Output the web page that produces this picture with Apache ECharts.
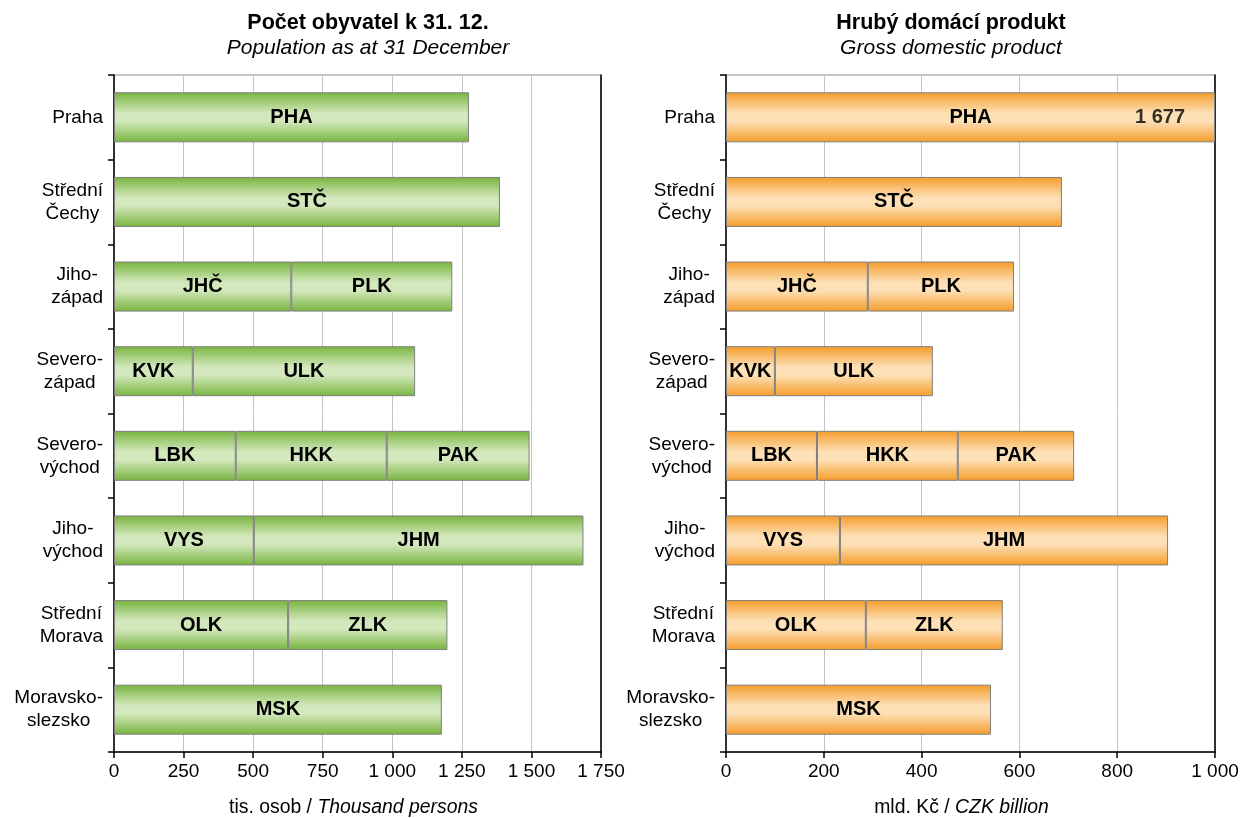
<!DOCTYPE html>
<html>
<head>
<meta charset="utf-8">
<script src="https://cdn.jsdelivr.net/npm/echarts@6/dist/echarts.min.js"></script>
<style>html,body{margin:0;padding:0;background:#fff}#c{width:1242px;height:818px}</style>
</head>
<body>
<div id="c"></div>
<script>
const categories = ['Praha','Střední\nČechy','Jiho-\nzápad','Severo-\nzápad','Severo-\nvýchod','Jiho-\nvýchod','Střední\nMorava','Moravsko-\nslezsko'];
const codes1 = ['PHA','STČ','JHČ','KVK','LBK','VYS','OLK','MSK'];
const codes2 = ['','','PLK','ULK','HKK','JHM','ZLK',''];
const codes3 = ['','','','','PAK','','',''];
const pop1 = [1275.4,1386.8,637.0,283.2,437.6,502.4,625.7,1178.0];
const pop2 = [null,null,578.7,798.9,542.6,1184.6,572.4,null];
const pop3 = [null,null,null,null,513.2,null,null,null];
const gdp1 = [1677,687,290,100,186,233,286,542];
const gdp2 = [null,null,299,323,288,671,280,null];
const gdp3 = [null,null,null,null,238,null,null,null];
const popAxis = {max:1750, step:250};
const gdpAxis = {max:1000, step:200};
const titles = [
  {text:'Počet obyvatel k 31. 12.', sub:'Population as at 31 December', unitCz:'tis. osob', unitEn:'Thousand persons'},
  {text:'Hrubý domácí produkt', sub:'Gross domestic product', unitCz:'mld. Kč', unitEn:'CZK billion'}
];

const FONT = "'Liberation Sans', Arial, sans-serif";
const fmt = v => String(v).replace(/\B(?=(\d{3})+(?!\d))/g, ' ');
const chart = echarts.init(document.getElementById('c'));

const green = new echarts.graphic.LinearGradient(0,0,0,1,[
  {offset:0,color:'#78b43e'},{offset:0.42,color:'#d3e8bd'},{offset:0.58,color:'#d3e8bd'},{offset:1,color:'#78b43e'}]);
const orange = new echarts.graphic.LinearGradient(0,0,0,1,[
  {offset:0,color:'#f59c2a'},{offset:0.42,color:'#fde0b6'},{offset:0.58,color:'#fde0b6'},{offset:1,color:'#f59c2a'}]);

const grids = [
  {left:114, width:487, top:75, height:677},
  {left:726, width:489, top:75, height:677}
];
const titleCenters = [363, 946];
const namePad = [8, 18];

function xAxisFor(i, ax){
  return {
    gridIndex:i, type:'value', min:0, max:ax.max, interval:ax.step,
    axisLine:{show:true, lineStyle:{color:'#000', width:1.5}},
    axisTick:{show:true, length:6, lineStyle:{color:'#000', width:1.5}},
    axisLabel:{color:'#000', fontSize:19, fontFamily:FONT, margin:10, formatter:v=>fmt(v)},
    splitLine:{show:true, lineStyle:{color:'#c4c4c4', width:1}},
    name:'{n|'+titles[i].unitCz+' / }{it|'+titles[i].unitEn+'}',
    nameLocation:'middle', nameGap:46,
    nameTextStyle:{padding:[0, namePad[i], 0, 0], rich:{
      n:{fontSize:19.4, fontFamily:FONT, color:'#000'},
      it:{fontSize:19.4, fontFamily:FONT, color:'#000', fontStyle:'italic'}}}
  };
}
function yAxisFor(i){
  return {
    gridIndex:i, type:'category', data:categories, inverse:true,
    axisLine:{show:true, lineStyle:{color:'#000', width:1.5}},
    axisTick:{show:true, length:6, lineStyle:{color:'#000', width:1.5}},
    axisLabel:{interval:0, margin:11, align:'right',
      formatter:v=>v.split('\n').map(l=>'{c|'+l+'}').join('\n'),
      rich:{c:{align:'center', fontSize:19, fontFamily:FONT, color:'#000', lineHeight:23}}},
    splitLine:{show:false}
  };
}
function frameAxis(i){
  return {gridIndex:i, type:'category', data:categories, inverse:true, position:'right',
    axisLine:{show:true, lineStyle:{color:'#000', width:1.5}},
    axisTick:{show:false}, axisLabel:{show:false}, splitLine:{show:false}};
}

function segSeries(i, vals, codes, color, stack, clampMax){
  return {
    type:'bar', xAxisIndex:i, yAxisIndex:i*2, stack:stack, barWidth:50,
    data: vals.map(v => v==null ? null : Math.min(v, clampMax)),
    itemStyle:{color:color, borderColor:'#7f7f7f', borderWidth:1},
    label:{show:true, position:'inside', color:'#000', fontWeight:'bold', fontSize:20, fontFamily:FONT,
      formatter:p => codes[p.dataIndex] || ''},
    emphasis:{disabled:true}, animation:false
  };
}

const gdpTotals = gdp1.map((v,k)=>(v||0)+(gdp2[k]||0)+(gdp3[k]||0));
const overflow = [];
gdpTotals.forEach((t,k)=>{ if(t>gdpAxis.max) overflow.push({value:[gdpAxis.max,k], lab:fmt(t)}); });

chart.setOption({
  animation:false,
  textStyle:{fontFamily:FONT},
  title: titles.map((t,i)=>({
    text:t.text, subtext:t.sub, left:titleCenters[i], top:7, textAlign:'center', itemGap:4,
    textStyle:{fontSize:21.5, fontWeight:'bold', color:'#000', fontFamily:FONT},
    subtextStyle:{fontSize:21, fontStyle:'italic', color:'#000', fontFamily:FONT}
  })),
  grid: grids.map(g=>Object.assign({show:true, borderColor:'#8a8a8a', borderWidth:1, backgroundColor:'transparent',
    containLabel:false, outerBoundsMode:'none'}, g)),
  xAxis:[xAxisFor(0,popAxis), xAxisFor(1,gdpAxis)],
  yAxis:[yAxisFor(0), frameAxis(0), yAxisFor(1), frameAxis(1)],
  series:[
    segSeries(0,pop1,codes1,green,'pop',popAxis.max),
    segSeries(0,pop2,codes2,green,'pop',popAxis.max),
    segSeries(0,pop3,codes3,green,'pop',popAxis.max),
    segSeries(1,gdp1,codes1,orange,'gdp',gdpAxis.max),
    segSeries(1,gdp2,codes2,orange,'gdp',gdpAxis.max),
    segSeries(1,gdp3,codes3,orange,'gdp',gdpAxis.max),
    {type:'scatter', xAxisIndex:1, yAxisIndex:2, symbolSize:0, silent:true, z:10,
      data: overflow.map(o=>({value:o.value, lab:o.lab})),
      label:{show:true, position:'left', distance:30, color:'#000', fontWeight:'bold', fontSize:20, fontFamily:FONT,
        formatter:p=>p.data.lab}}
  ]
});
</script>
</body>
</html>
